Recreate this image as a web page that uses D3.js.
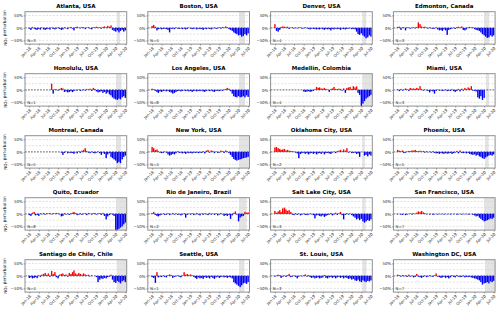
<!DOCTYPE html>
<html>
<head>
<meta charset="utf-8">
<script src="https://cdn.jsdelivr.net/npm/d3@7"></script>
<style>
body { margin: 0; background: #fff; }
svg text { font-family: "DejaVu Sans", sans-serif; }
</style>
</head>
<body>
<svg id="chart" width="500" height="313"></svg>
<script>
"use strict";

// Cities, in panel order (row by row).
const cities = ["Atlanta, USA", "Boston, USA", "Denver, USA", "Edmonton, Canada",
    "Honolulu, USA", "Los Angeles, USA", "Medellin, Colombia", "Miami, USA",
    "Montreal, Canada", "New York, USA", "Oklahoma City, USA", "Phoenix, USA",
    "Quito, Ecuador", "Rio de Janeiro, Brazil", "Salt Lake City, USA", "San Francisco, USA",
    "Santiago de Chile, Chile", "Seattle, USA", "St. Louis, USA", "Washington DC, USA"];
const nSites = [3, 4, 4, 3, 1, 8, 4, 3, 5, 4, 2, 5, 8, 2, 3, 7, 4, 1, 3, 7];

// Shaded (lockdown) period for each city.
const shadeStart = ["2020-04-10", "2020-04-05", "2020-04-10", "2020-03-31", "2020-04-03",
    "2020-04-05", "2020-04-10", "2020-04-19", "2020-04-03", "2020-04-05", "2020-04-10",
    "2020-04-10", "2020-04-03", "2020-04-05", "2020-04-10", "2020-03-31", "2020-04-10",
    "2020-04-05", "2020-04-10", "2020-04-10"];
const shadeEnd = ["2020-05-11", "2020-06-01", "2020-05-17", "2020-05-20", "2020-05-26",
    "2020-06-01", "2020-07-31", "2020-05-17", "2020-05-20", "2020-07-31", "2020-05-04",
    "2020-05-14", "2020-07-31", "2020-06-17", "2020-05-11", "2020-07-31", "2020-07-31",
    "2020-05-27", "2020-05-20", "2020-07-31"];

const tickDates = ["2018-01-01", "2018-04-01", "2018-07-01", "2018-10-01", "2019-01-01",
    "2019-04-01", "2019-07-01", "2019-10-01", "2020-01-01", "2020-04-01", "2020-07-01"];
const yTicks = [-50, 0, 50];
const yGrid = [-50, -25, 25, 50];

// NO2 perturbation (%), one value per half month from Jan 2018 to Jul 2020; null = no data.
const atlanta = [-3,-8,4,-3,-6,-8,-4,-7,2,-6, -8,-5,-3,-7,2,-4,-6,-3,3,-4, -8,-6,3,-2,-5,2,4,-3,-10,3,
    5,2,-2,4,3,-5,2,3,-3,-6, 3,2,5,2,3,-3,4,6,3,8, 5,10,-8,-12,-15,-10,-18,-12,-8,-15, -10];
const boston = [8,12,5,-10,-5,-3,-6,-4,-3,-5, -8,-18,-4,-3,-5,2,-3,-4,-2,-5, -3,-6,-4,2,-3,-5,-4,-2,-6,-3,
    -5,-4,-8,-3,-5,-2,-4,-6,-3,2, -4,-2,3,-3,4,2,6,3,-5,-8, -12,-18,-22,-25,-30,-28,-35,-32,-25,-30, -22];
const denver = [15,-12,-15,-8,4,6,5,3,5,-4, 2,3,-3,2,-2,3,2,-3,-2,3, -2,-4,-6,-3,-4,-5,-6,-4,-6,-3,
    -5,-8,-4,-6,-5,-10,-4,-6,-3,-5, -4,-8,-3,-5,-6,-4,-3,-2,-5,-4, -6,-15,-25,-28,-22,-30,-35,-42,-38,-30, -35];
const edmonton = [4,5,-8,3,2,-10,3,2,-3,2, 3,-2,4,22,15,6,3,5,2,-3, 3,-2,-4,-3,2,-6,-10,-8,-12,-6,
    -10,-28,-8,-5,-3,2,-4,3,5,2, 6,-8,-10,-6,3,4,2,3,-5,-8, -10,-12,-18,-25,-30,-35,-40,-38,-30,-35, -30];
const honolulu = [null,null,null,null,null,null,null,null,null,null, null,null,null,null,25,-15,3,2,-3,4,
    8,6,-8,-6,-10,-8,-5,-9,-4,-2, -3,2,-4,-2,3,-3,4,2,5,-4, 8,4,-6,-10,-8,-5,-12,-8,-15,-10,
    -18,-22,-30,-35,-38,-40,-35,-38,-30,-25, -32];
const losAngeles = [5,3,-4,-8,-12,-6,-8,-5,-3,-6, -4,-8,-10,-15,-12,-8,-5,-3,-6,-4, -2,-5,-3,-6,-4,-8,-5,-3,-6,-4,
    -5,-3,-6,-8,-4,-2,-5,-3,-6,-8, -4,-3,-5,-2,-4,2,4,8,5,-5, -15,-25,-28,-30,-25,-30,-28,-25,-30,-22, -28];
const medellin = [null,null,null,null,null,null,null,null,null,null, null,null,null,null,null,null,null,null,-6,-8,
    -7,-5,-8,-6,-4,3,12,8,10,6, 5,8,4,2,-8,3,6,12,4,3, 5,4,-3,6,-12,8,10,12,4,15,
    10,14,-12,-20,-65,-55,-45,-35,-30,-25, -20];
const miami = [3,-5,4,-3,2,6,3,-4,8,5, 6,4,8,5,15,3,-3,2,-2,-4, -10,-3,-6,-15,-4,2,-3,-2,-4,-3,
    2,-5,-3,-4,3,-5,-8,-4,4,-6, 5,-3,8,4,10,6,15,-3,-4,-6, -30,-35,-25,-40,-32,null,null,null,null,null, null];
const montreal = [null,null,null,null,null,null,null,null,null,null, null,null,null,null,null,null,null,null,null,null,
    -3,-12,-4,2,-6,-3,-5,-4,-8,-2, -6,3,-4,5,8,15,4,-3,-5,2, -4,-6,-3,2,-5,-12,-3,-8,-25,-10,
    -5,-20,-25,-30,-35,-45,-40,-45,-30,-20, -15];
const newYork = [20,15,8,10,3,-3,-5,-4,2,-3, -10,-15,-12,-8,-10,-5,3,-4,-3,-6, -4,-8,-3,-5,-4,-6,-3,-4,-2,-5,
    -3,-4,3,-6,5,8,-3,6,4,-5, 2,-4,-3,5,3,-4,6,2,-5,-12, -20,-28,-32,-35,-32,-30,-28,-25,-24,-22, -20];
const oklahomaCity = [18,20,15,12,8,10,12,6,8,5, 4,3,2,-3,-6,-25,-8,-5,-3,-8, -5,-10,-6,-4,-8,-5,-10,-6,-4,-8,
    -3,-10,-5,-4,-6,-8,-3,2,-5,3, 5,8,3,10,5,15,-3,2,-5,-4, -3,-8,-6,-20,null,null,-15,-12,-18,-10, -15];
const phoenix = [8,5,3,6,-5,-3,2,4,3,6, 5,8,4,3,5,2,4,-3,3,-2, 2,-3,3,-4,-6,-5,-8,-4,-6,-8,
    -5,-7,-6,-4,-8,-5,-3,4,-6,6, -4,-5,-3,-6,-4,-8,-10,-12,-10,-15, -12,-18,-20,-25,-28,-22,-18,-15,-12,-15, -10];
const quito = [-5,-8,5,8,-6,-4,-8,3,-2,4, -3,3,2,4,-2,3,2,4,3,-2, -10,-8,3,-3,2,-4,3,5,8,4,
    -5,-3,3,-4,2,3,-5,4,2,-3, 3,4,-3,2,3,-4,4,-8,-22,-10, -5,3,-3,-8,-70,-68,-60,-55,-50,-42, -35];
const rio = [3,8,-4,-8,-10,-6,-3,2,-4,-3, 3,-5,-2,4,-3,2,-4,-2,-6,-3, 3,-15,-4,2,-3,3,-5,-2,4,-3,
    -6,2,-4,3,-2,-5,4,-3,2,-4, 3,-6,-3,4,-2,-8,-5,-8,-4,-20, -6,4,10,-3,-30,-15,-10,-8,8,5, 6];
const saltLakeCity = [12,5,10,15,8,22,25,18,12,15, 8,-3,-5,3,-4,2,-6,-3,2,-4, -5,-3,2,-2,-5,-18,-6,-4,-8,-10,
    -6,-12,-8,-5,-3,4,-6,-3,5,-4, 3,8,-5,-22,-4,3,-3,2,-5,-10, -15,-22,-18,-25,-20,-30,-35,-30,-25,-28, -22];
const sanFrancisco = [-2,null,-3,-4,null,-5,-3,null,2,-3, 3,null,5,10,8,12,6,3,-2,null, -3,null,-4,-2,null,-3,null,-2,null,-3,
    null,-2,null,-3,null,-2,null,-3,-2,null, -3,null,-2,null,-3,-2,null,-4,-6,-10, -8,-15,-20,-25,-30,-28,-25,-22,-18,-20, -15];
const santiago = [-8,-6,-10,-8,-5,-9,3,-4,5,8, 12,4,10,-3,20,8,15,-5,-10,5, 8,10,4,6,-3,12,8,15,22,10,
    6,12,8,5,10,6,3,5,-2,3, null,null,-5,-25,-15,-10,-12,-8,-10,-5, -3,5,-15,-25,-28,-20,-25,-30,-22,-18, -25];
const seattle = [-5,-8,-28,15,-6,-3,-5,2,-4,-6, 3,6,4,-8,-4,-2,3,-3,-6,2, 15,5,8,4,6,3,-4,-8,-12,-6,
    -10,-8,-12,-5,-8,-6,-10,-4,-8,-12, -6,-3,-8,-5,-3,-6,-4,-8,-5,-6, -10,-25,-30,-35,-40,-45,-38,-30,-28,-32, -25];
const stLouis = [-3,2,5,3,-8,-3,2,-4,3,8, -5,-3,2,-4,-10,-3,2,-2,3,6, -3,4,-5,-8,-6,-10,-8,-5,-10,-8,
    -6,4,-8,-10,-6,-4,-8,-5,-10,-6, -4,-8,-5,-10,-6,-8,-12,-10,-15,-12, -18,-20,-15,-22,-25,-18,-22,-25,-20,-22, -18];
const washington = [5,3,-3,4,-2,3,-4,5,-3,2, -6,-4,8,-3,-5,-8,-4,2,-5,-3, 3,-2,-4,3,10,-3,-5,-8,-6,-4,
    -8,-5,-10,-6,3,-4,-6,4,-3,-5, -4,2,-6,-4,-5,-3,-6,-8,-10,-12, -15,-18,-25,-35,-30,-28,-25,-30,-22,-25, -20];

const series = [atlanta, boston, denver, edmonton, honolulu, losAngeles, medellin, miami,
    montreal, newYork, oklahomaCity, phoenix, quito, rio, saltLakeCity, sanFrancisco,
    santiago, seattle, stLouis, washington];

// Half-month sample dates (1st and 16th of each month).
let slotDates = [];
d3.timeMonth.range(new Date(2018, 0, 1), new Date(2020, 6, 2)).forEach(m => {
    slotDates.push(m);
    slotDates.push(d3.timeDay.offset(m, 15));
});
slotDates = slotDates.slice(0, 61);

const parse = d3.timeParse("%Y-%m-%d");
const svg = d3.select("#chart");

// Panel geometry
const colLeft = [25, 147.8, 270.6, 393.4];
const rowTop = [11.7, 73.7, 135.7, 197.7, 259.7];
const plotW = 101.7, plotH = 32.4;
const tickFont = "3.9px";

const x = d3.scaleTime()
    .domain([new Date(2017, 10, 21), new Date(2020, 6, 14)])
    .range([0, plotW]);
const y = d3.scaleLinear().domain([-65, 65]).range([plotH, 0]);

svg.append("clipPath").attr("id", "clip")
    .append("rect").attr("width", plotW).attr("height", plotH);

cities.forEach((city, i) => {
    let col = i % 4, row = Math.floor(i / 4);
    let g = svg.append("g")
        .attr("transform", "translate(" + colLeft[col] + "," + rowTop[row] + ")");

    // Shaded lockdown period
    let s0 = x(parse(shadeStart[i])), s1 = Math.min(plotW, x(parse(shadeEnd[i])));
    g.append("rect")
        .attr("x", s0).attr("y", 0)
        .attr("width", s1 - s0).attr("height", plotH)
        .style("fill", "#e3e3e3");

    // Grid lines
    g.selectAll(".grid").data(yGrid).enter().append("line")
        .attr("class", "grid")
        .attr("x1", 0).attr("x2", plotW)
        .attr("y1", d => y(d)).attr("y2", d => y(d))
        .style("stroke", "#cfcfcf")
        .style("stroke-width", "0.6px")
        .style("stroke-dasharray", "2,1.5");

    // Bars
    let vals = series[i].map((v, k) => ({date: slotDates[k], v: v})).filter(d => d.v !== null);
    g.append("g").attr("clip-path", "url(#clip)")
        .selectAll("rect").data(vals).enter().append("rect")
        .attr("x", d => x(d.date) - 0.7)
        .attr("width", 1.4)
        .attr("y", d => Math.min(y(d.v), y(0)))
        .attr("height", d => Math.abs(y(d.v) - y(0)))
        .style("fill", d => d.v > 0 ? "#ff0000" : "#0000ff");

    // Zero line
    g.append("line")
        .attr("x1", 0).attr("x2", plotW)
        .attr("y1", y(0)).attr("y2", y(0))
        .style("stroke", "#333")
        .style("stroke-width", "0.75px")
        .style("stroke-dasharray", "1.8,1.2");

    // Frame
    g.append("rect")
        .attr("width", plotW).attr("height", plotH)
        .style("fill", "none")
        .style("stroke", "#909090")
        .style("stroke-width", "1px");

    // Axes
    let yAxis = g.append("g")
        .call(d3.axisLeft(y).tickValues(yTicks).tickSize(1.5).tickPadding(0.8)
            .tickFormat(d => (d < 0 ? "\u2212" + (-d) : d) + "%"));
    yAxis.select(".domain").remove();
    yAxis.selectAll("line").style("stroke", "#555").style("stroke-width", "0.5px");
    yAxis.selectAll("text").style("font-size", tickFont).style("fill", "#222")
        .style("font-family", "DejaVu Sans");

    let xAxis = g.append("g")
        .attr("transform", "translate(0," + plotH + ")")
        .call(d3.axisBottom(x).tickValues(tickDates.map(parse)).tickSize(1.5)
            .tickFormat(d3.timeFormat("%b-%y")));
    xAxis.select(".domain").remove();
    xAxis.selectAll("line").style("stroke", "#555").style("stroke-width", "0.5px");
    xAxis.selectAll("text")
        .attr("x", 0).attr("y", 0).attr("dy", "0.35em")
        .attr("transform", "translate(0.6,3.4) rotate(-45)")
        .style("text-anchor", "end")
        .style("font-size", tickFont).style("fill", "#222")
        .style("font-family", "DejaVu Sans");

    // Title and count label
    g.append("text")
        .attr("x", plotW / 2).attr("y", -3.4)
        .style("text-anchor", "middle")
        .style("font-size", "5.5px")
        .style("font-weight", "bold")
        .text(city);
    g.append("text")
        .attr("x", 2.2).attr("y", plotH - 1.6)
        .style("font-size", tickFont)
        .style("fill", "#222")
        .text("N=" + nSites[i]);

    if (col === 0) {
        let lab = g.append("text")
            .attr("transform", "translate(-18.5," + (plotH / 2) + ") rotate(-90)")
            .style("text-anchor", "middle")
            .style("font-size", "4.2px")
            .style("fill", "#222");
        lab.append("tspan").text("NO");
        lab.append("tspan").attr("dy", "0.3em").style("font-size", "2.9px").text("2");
        lab.append("tspan").attr("dy", "-0.3em").text(" perturbation");
    }
});
</script>
</body>
</html>
